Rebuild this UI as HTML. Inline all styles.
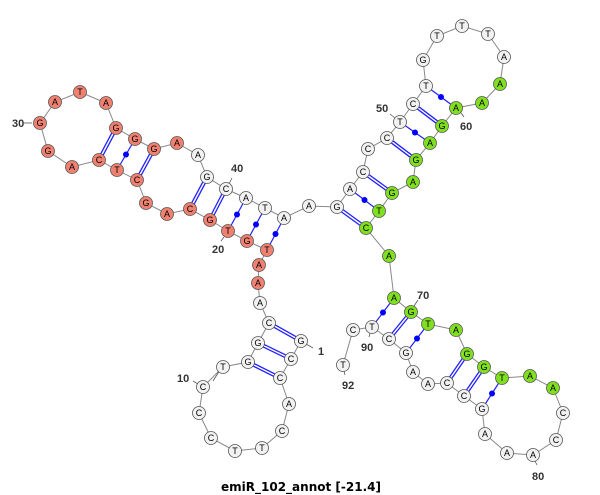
<!DOCTYPE html>
<html><head><meta charset="utf-8"><style>
html,body{margin:0;padding:0;background:#fff;width:600px;height:495px;overflow:hidden}
svg{display:block}
.n circle{stroke:#555;stroke-width:0.8}
.w circle{fill:#f2f2f2}
.r circle{fill:#f08070}
.g circle{fill:#80e020}
text{font-family:"Liberation Sans",sans-serif}
.n text{font-size:9px;text-anchor:middle;dominant-baseline:central;fill:#000}
.lb{font-family:"Liberation Serif",serif;font-weight:bold;font-size:11px;fill:#333}
</style></head><body>
<svg width="600" height="495" viewBox="0 0 600 495" xmlns="http://www.w3.org/2000/svg">
<polyline fill="none" stroke="#888" stroke-width="1" points="301,341 291,359 280,378 289,404 282,431 262,448 235,451 211,438 199,413 203,387 223,367 248,362 258,343 269,323 260,303 258,283 259,265 267,250 247,241 228,231 210,220 190,209 167,214 146,203 137,180 117,170 99,160 72,167 48,151 40,123 55,102 80,92 106,103 116,128 135,139 154,149 177,143 198,155 207,177 226,189 246,198 265,208 284,218 309,206 337,207 350,189 363,172 368,149 387,138 400,122 413,104 426,86 423,60 437,36 462,26 488,34 504,57 500,84 482,103 456,108 442,126 430,143 416,160 413,182 392,193 379,211 366,228 389,256 394,298 411,312 428,324 456,330 467,354 484,367 502,378 530,376 553,388 563,413 556,440 533,455 507,453 485,434 482,409 464,396 447,383 428,384 413,372 406,353 389,339 372,327 353,330 343,365"/>
<g stroke="#2020ff" stroke-width="4">
<line x1="301" y1="341" x2="269" y2="323"/><line x1="291" y1="359" x2="258" y2="343"/><line x1="280" y1="378" x2="248" y2="362"/>
<line x1="210" y1="220" x2="226" y2="189"/><line x1="190" y1="209" x2="207" y2="177"/><line x1="137" y1="180" x2="154" y2="149"/><line x1="99" y1="160" x2="116" y2="128"/>
<line x1="337" y1="207" x2="366" y2="228"/><line x1="363" y1="172" x2="392" y2="193"/><line x1="387" y1="138" x2="416" y2="160"/><line x1="413" y1="104" x2="442" y2="126"/>
<line x1="411" y1="312" x2="389" y2="339"/><line x1="467" y1="354" x2="447" y2="383"/><line x1="484" y1="367" x2="464" y2="396"/>
</g>
<g stroke="#fff" stroke-width="1.4">
<line x1="301" y1="341" x2="269" y2="323"/><line x1="291" y1="359" x2="258" y2="343"/><line x1="280" y1="378" x2="248" y2="362"/>
<line x1="210" y1="220" x2="226" y2="189"/><line x1="190" y1="209" x2="207" y2="177"/><line x1="137" y1="180" x2="154" y2="149"/><line x1="99" y1="160" x2="116" y2="128"/>
<line x1="337" y1="207" x2="366" y2="228"/><line x1="363" y1="172" x2="392" y2="193"/><line x1="387" y1="138" x2="416" y2="160"/><line x1="413" y1="104" x2="442" y2="126"/>
<line x1="411" y1="312" x2="389" y2="339"/><line x1="467" y1="354" x2="447" y2="383"/><line x1="484" y1="367" x2="464" y2="396"/>
</g>
<g stroke="#2020ff" stroke-width="1.2" fill="#0000ff">
<line x1="267" y1="250" x2="284" y2="218"/><circle cx="275.5" cy="234" r="3" stroke="none"/>
<line x1="247" y1="241" x2="265" y2="208"/><circle cx="256" cy="224.5" r="3" stroke="none"/>
<line x1="228" y1="231" x2="246" y2="198"/><circle cx="237" cy="214.5" r="3" stroke="none"/>
<line x1="117" y1="170" x2="135" y2="139"/><circle cx="126" cy="154.5" r="3" stroke="none"/>
<line x1="350" y1="189" x2="379" y2="211"/><circle cx="364.5" cy="200" r="3" stroke="none"/>
<line x1="400" y1="122" x2="430" y2="143"/><circle cx="415" cy="132.5" r="3" stroke="none"/>
<line x1="426" y1="86" x2="456" y2="108"/><circle cx="441" cy="97" r="3" stroke="none"/>
<line x1="394" y1="298" x2="372" y2="327"/><circle cx="383" cy="312.5" r="3" stroke="none"/>
<line x1="428" y1="324" x2="406" y2="353"/><circle cx="417" cy="338.5" r="3" stroke="none"/>
<line x1="502" y1="378" x2="482" y2="409"/><circle cx="492" cy="393.5" r="3" stroke="none"/>
</g>
<g stroke="#555" stroke-width="0.8">
<line x1="306" y1="344" x2="313" y2="348"/><line x1="220" y1="370" x2="213" y2="381"/><line x1="24" y1="123" x2="32" y2="123"/>
<line x1="224" y1="237" x2="221" y2="241"/><line x1="229" y1="184" x2="232" y2="178"/><line x1="395" y1="118" x2="390" y2="114"/>
<line x1="461" y1="113" x2="464" y2="117"/><line x1="414" y1="306" x2="418" y2="300"/><line x1="370" y1="333" x2="369" y2="337"/>
<line x1="535" y1="461" x2="537" y2="465"/><line x1="344" y1="371" x2="345" y2="375"/><line x1="198" y1="384" x2="193" y2="381"/>
</g>
<g class="lb">
<text x="318" y="355">1</text><text x="177" y="382">10</text><text x="12" y="127">30</text>
<text x="212" y="253">20</text><text x="231" y="172">40</text><text x="376" y="112">50</text>
<text x="460" y="130">60</text><text x="417" y="299">70</text><text x="361" y="351">90</text>
<text x="532" y="480">80</text><text x="342" y="389">92</text>
</g>
<g class="n w"><circle cx="301" cy="341" r="6.5"/><text x="301" y="341">G</text></g>
<g class="n w"><circle cx="291" cy="359" r="6.5"/><text x="291" y="359">C</text></g>
<g class="n w"><circle cx="280" cy="378" r="6.5"/><text x="280" y="378">C</text></g>
<g class="n w"><circle cx="289" cy="404" r="6.5"/><text x="289" y="404">A</text></g>
<g class="n w"><circle cx="282" cy="431" r="6.5"/><text x="282" y="431">C</text></g>
<g class="n w"><circle cx="262" cy="448" r="6.5"/><text x="262" y="448">T</text></g>
<g class="n w"><circle cx="235" cy="451" r="6.5"/><text x="235" y="451">T</text></g>
<g class="n w"><circle cx="211" cy="438" r="6.5"/><text x="211" y="438">C</text></g>
<g class="n w"><circle cx="199" cy="413" r="6.5"/><text x="199" y="413">C</text></g>
<g class="n w"><circle cx="203" cy="387" r="6.5"/><text x="203" y="387">C</text></g>
<g class="n w"><circle cx="223" cy="367" r="6.5"/><text x="223" y="367">T</text></g>
<g class="n w"><circle cx="248" cy="362" r="6.5"/><text x="248" y="362">G</text></g>
<g class="n w"><circle cx="258" cy="343" r="6.5"/><text x="258" y="343">G</text></g>
<g class="n w"><circle cx="269" cy="323" r="6.5"/><text x="269" y="323">C</text></g>
<g class="n w"><circle cx="260" cy="303" r="6.5"/><text x="260" y="303">A</text></g>
<g class="n r"><circle cx="258" cy="283" r="6.5"/><text x="258" y="283">A</text></g>
<g class="n r"><circle cx="259" cy="265" r="6.5"/><text x="259" y="265">A</text></g>
<g class="n r"><circle cx="267" cy="250" r="6.5"/><text x="267" y="250">T</text></g>
<g class="n r"><circle cx="247" cy="241" r="6.5"/><text x="247" y="241">G</text></g>
<g class="n r"><circle cx="228" cy="231" r="6.5"/><text x="228" y="231">T</text></g>
<g class="n r"><circle cx="210" cy="220" r="6.5"/><text x="210" y="220">G</text></g>
<g class="n r"><circle cx="190" cy="209" r="6.5"/><text x="190" y="209">C</text></g>
<g class="n r"><circle cx="167" cy="214" r="6.5"/><text x="167" y="214">A</text></g>
<g class="n r"><circle cx="146" cy="203" r="6.5"/><text x="146" y="203">G</text></g>
<g class="n r"><circle cx="137" cy="180" r="6.5"/><text x="137" y="180">C</text></g>
<g class="n r"><circle cx="117" cy="170" r="6.5"/><text x="117" y="170">T</text></g>
<g class="n r"><circle cx="99" cy="160" r="6.5"/><text x="99" y="160">C</text></g>
<g class="n r"><circle cx="72" cy="167" r="6.5"/><text x="72" y="167">A</text></g>
<g class="n r"><circle cx="48" cy="151" r="6.5"/><text x="48" y="151">G</text></g>
<g class="n r"><circle cx="40" cy="123" r="6.5"/><text x="40" y="123">G</text></g>
<g class="n r"><circle cx="55" cy="102" r="6.5"/><text x="55" y="102">A</text></g>
<g class="n r"><circle cx="80" cy="92" r="6.5"/><text x="80" y="92">T</text></g>
<g class="n r"><circle cx="106" cy="103" r="6.5"/><text x="106" y="103">A</text></g>
<g class="n r"><circle cx="116" cy="128" r="6.5"/><text x="116" y="128">G</text></g>
<g class="n r"><circle cx="135" cy="139" r="6.5"/><text x="135" y="139">G</text></g>
<g class="n r"><circle cx="154" cy="149" r="6.5"/><text x="154" y="149">G</text></g>
<g class="n r"><circle cx="177" cy="143" r="6.5"/><text x="177" y="143">A</text></g>
<g class="n w"><circle cx="198" cy="155" r="6.5"/><text x="198" y="155">A</text></g>
<g class="n w"><circle cx="207" cy="177" r="6.5"/><text x="207" y="177">G</text></g>
<g class="n w"><circle cx="226" cy="189" r="6.5"/><text x="226" y="189">C</text></g>
<g class="n w"><circle cx="246" cy="198" r="6.5"/><text x="246" y="198">A</text></g>
<g class="n w"><circle cx="265" cy="208" r="6.5"/><text x="265" y="208">T</text></g>
<g class="n w"><circle cx="284" cy="218" r="6.5"/><text x="284" y="218">A</text></g>
<g class="n w"><circle cx="309" cy="206" r="6.5"/><text x="309" y="206">A</text></g>
<g class="n w"><circle cx="337" cy="207" r="6.5"/><text x="337" y="207">G</text></g>
<g class="n w"><circle cx="350" cy="189" r="6.5"/><text x="350" y="189">A</text></g>
<g class="n w"><circle cx="363" cy="172" r="6.5"/><text x="363" y="172">C</text></g>
<g class="n w"><circle cx="368" cy="149" r="6.5"/><text x="368" y="149">C</text></g>
<g class="n w"><circle cx="387" cy="138" r="6.5"/><text x="387" y="138">C</text></g>
<g class="n w"><circle cx="400" cy="122" r="6.5"/><text x="400" y="122">T</text></g>
<g class="n w"><circle cx="413" cy="104" r="6.5"/><text x="413" y="104">C</text></g>
<g class="n w"><circle cx="426" cy="86" r="6.5"/><text x="426" y="86">T</text></g>
<g class="n w"><circle cx="423" cy="60" r="6.5"/><text x="423" y="60">G</text></g>
<g class="n w"><circle cx="437" cy="36" r="6.5"/><text x="437" y="36">T</text></g>
<g class="n w"><circle cx="462" cy="26" r="6.5"/><text x="462" y="26">T</text></g>
<g class="n w"><circle cx="488" cy="34" r="6.5"/><text x="488" y="34">T</text></g>
<g class="n w"><circle cx="504" cy="57" r="6.5"/><text x="504" y="57">A</text></g>
<g class="n g"><circle cx="500" cy="84" r="6.5"/><text x="500" y="84">A</text></g>
<g class="n g"><circle cx="482" cy="103" r="6.5"/><text x="482" y="103">A</text></g>
<g class="n g"><circle cx="456" cy="108" r="6.5"/><text x="456" y="108">A</text></g>
<g class="n g"><circle cx="442" cy="126" r="6.5"/><text x="442" y="126">G</text></g>
<g class="n g"><circle cx="430" cy="143" r="6.5"/><text x="430" y="143">A</text></g>
<g class="n g"><circle cx="416" cy="160" r="6.5"/><text x="416" y="160">G</text></g>
<g class="n g"><circle cx="413" cy="182" r="6.5"/><text x="413" y="182">A</text></g>
<g class="n g"><circle cx="392" cy="193" r="6.5"/><text x="392" y="193">G</text></g>
<g class="n g"><circle cx="379" cy="211" r="6.5"/><text x="379" y="211">T</text></g>
<g class="n g"><circle cx="366" cy="228" r="6.5"/><text x="366" y="228">C</text></g>
<g class="n g"><circle cx="389" cy="256" r="6.5"/><text x="389" y="256">A</text></g>
<g class="n g"><circle cx="394" cy="298" r="6.5"/><text x="394" y="298">A</text></g>
<g class="n g"><circle cx="411" cy="312" r="6.5"/><text x="411" y="312">G</text></g>
<g class="n g"><circle cx="428" cy="324" r="6.5"/><text x="428" y="324">T</text></g>
<g class="n g"><circle cx="456" cy="330" r="6.5"/><text x="456" y="330">A</text></g>
<g class="n g"><circle cx="467" cy="354" r="6.5"/><text x="467" y="354">G</text></g>
<g class="n g"><circle cx="484" cy="367" r="6.5"/><text x="484" y="367">G</text></g>
<g class="n g"><circle cx="502" cy="378" r="6.5"/><text x="502" y="378">T</text></g>
<g class="n g"><circle cx="530" cy="376" r="6.5"/><text x="530" y="376">A</text></g>
<g class="n g"><circle cx="553" cy="388" r="6.5"/><text x="553" y="388">A</text></g>
<g class="n w"><circle cx="563" cy="413" r="6.5"/><text x="563" y="413">C</text></g>
<g class="n w"><circle cx="556" cy="440" r="6.5"/><text x="556" y="440">C</text></g>
<g class="n w"><circle cx="533" cy="455" r="6.5"/><text x="533" y="455">A</text></g>
<g class="n w"><circle cx="507" cy="453" r="6.5"/><text x="507" y="453">A</text></g>
<g class="n w"><circle cx="485" cy="434" r="6.5"/><text x="485" y="434">A</text></g>
<g class="n w"><circle cx="482" cy="409" r="6.5"/><text x="482" y="409">G</text></g>
<g class="n w"><circle cx="464" cy="396" r="6.5"/><text x="464" y="396">C</text></g>
<g class="n w"><circle cx="447" cy="383" r="6.5"/><text x="447" y="383">C</text></g>
<g class="n w"><circle cx="428" cy="384" r="6.5"/><text x="428" y="384">A</text></g>
<g class="n w"><circle cx="413" cy="372" r="6.5"/><text x="413" y="372">A</text></g>
<g class="n w"><circle cx="406" cy="353" r="6.5"/><text x="406" y="353">G</text></g>
<g class="n w"><circle cx="389" cy="339" r="6.5"/><text x="389" y="339">C</text></g>
<g class="n w"><circle cx="372" cy="327" r="6.5"/><text x="372" y="327">T</text></g>
<g class="n w"><circle cx="353" cy="330" r="6.5"/><text x="353" y="330">C</text></g>
<g class="n w"><circle cx="343" cy="365" r="6.5"/><text x="343" y="365">T</text></g>
<text x="301" y="491" text-anchor="middle" style="font-family:'DejaVu Sans','Liberation Sans',sans-serif;font-weight:bold;font-size:12px" fill="#000">emiR_102_annot [-21.4]</text>
</svg>
</body></html>
